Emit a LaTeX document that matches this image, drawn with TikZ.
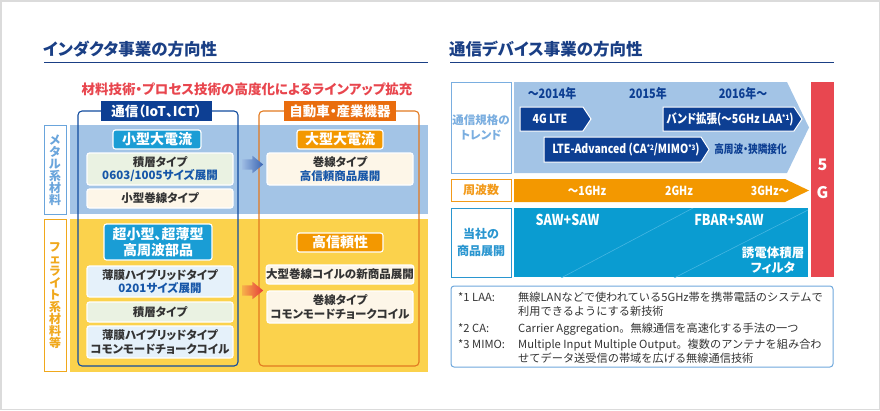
\documentclass[tikz,border=0pt]{standalone}
\usepackage{fontspec}
\setmainfont{Noto Sans CJK JP}[RawFeature={+palt}]
\newfontfamily\plainjp{Noto Sans CJK JP}
\newfontfamily\condjp{Noto Sans CJK JP}[RawFeature={+palt},FakeStretch=0.84]
\usetikzlibrary{shapes.arrows}
\newcommand\fs[2]{\fontsize{#1}{#2}\selectfont}
\newcommand\supx[1]{\raisebox{0.45ex}{\fontsize{7.5}{8}\selectfont #1}}
\definecolor{titleblue}{HTML}{1A3F85}
\definecolor{subred}{HTML}{E8464E}
\definecolor{bandblue}{HTML}{A3C4E6}
\definecolor{bandyellow}{HTML}{FBD24C}
\definecolor{frameblue}{HTML}{114B9E}
\definecolor{frameorange}{HTML}{E27A20}
\definecolor{darkblue}{HTML}{0D3F93}
\definecolor{hdrorange}{HTML}{E96D0E}
\definecolor{cyanA}{HTML}{1A9DD5}
\definecolor{orangeA}{HTML}{F39800}
\definecolor{greenbox}{HTML}{EAF2E2}
\definecolor{creambox}{HTML}{FDF6E8}
\definecolor{lbluebox}{HTML}{E5F1FA}
\definecolor{textblue}{HTML}{1656A8}
\definecolor{textdark}{HTML}{333333}
\definecolor{metalc}{HTML}{6AA5DC}
\definecolor{ferric}{HTML}{F0A81C}
\definecolor{trendc}{HTML}{7AAEE0}
\definecolor{freqc}{HTML}{F29A1A}
\definecolor{prodc}{HTML}{2A96D0}
\definecolor{cyanB}{HTML}{0A9CD1}
\definecolor{cyanline}{HTML}{45B6E2}
\definecolor{redg}{HTML}{E84750}
\definecolor{noteborder}{HTML}{6FA8DC}
\definecolor{arrowblueL}{HTML}{9DBBE3}
\definecolor{arrowblueR}{HTML}{3A64B2}
\definecolor{arrowredL}{HTML}{F6B04A}
\definecolor{arrowredR}{HTML}{E63B3B}
\newcommand\rbox[7]{\node[#6,minimum width={(#4)-(#2)},minimum height={(#5)-(#3)}] (#1) at ({((#2)+(#4))/2},{((#3)+(#5))/2}) {#7};}
\begin{document}
\begin{tikzpicture}[x=1pt,y=-1pt,
  title/.style={anchor=west,font=\bfseries\fs{16.5}{18},text=titleblue,inner sep=0},
  hdr/.style={inner sep=0,outer sep=0,text=white,font=\bfseries\fs{13.5}{16},align=center},
  tag/.style={draw=white,line width=1.2pt,rounded corners=2.5pt,inner sep=0,outer sep=0,text=white,font=\bfseries\fs{14}{16.5},align=center},
  item/.style={draw=white,line width=1.2pt,rounded corners=2.5pt,inner sep=0,outer sep=0,text=textdark,font=\bfseries\fs{11.5}{13.5},align=center},
  side/.style={draw,fill=white,line width=1pt,inner sep=0,outer sep=0,font=\bfseries\fs{11.5}{15},align=center},
  vert/.style={inner sep=0,font=\bfseries\fs{12}{12},align=center},
  arr/.style={single arrow,minimum height=21pt,inner sep=0pt,inner ysep=5pt,single arrow head extend=3.5pt,single arrow tip angle=78,shading angle=0},
  yr/.style={font=\condjp\bfseries\fs{13}{14},text=darkblue,inner sep=0},
  chev/.style={draw=white,line width=1pt,fill=darkblue},
  chevtxt/.style={font=\condjp\bfseries\fs{12.5}{14},text=white,inner sep=0},
  wtxt/.style={font=\condjp\bfseries\fs{12.5}{14},text=white,inner sep=0},
  big/.style={font=\condjp\bfseries\fs{15}{16},text=white,inner sep=0},
  note/.style={anchor=base west,font=\plainjp\fs{11.2}{14},text=textdark,inner sep=0}]
\useasboundingbox (0,0) rectangle (880,410);
\draw[black!14,line width=1.5pt] (0.75,0.75) rectangle (879.25,409.25);
% ===== left =====
\node[title] (t1) at (43,49) {インダクタ事業の方向性};
\draw[titleblue,line width=1.2pt] (44,62.5) -- (428,62.5);
\node[font=\bfseries\fs{13.5}{16},text=subred,inner sep=0] (sub) at (247,89) {材料技術・プロセス技術の高度化によるラインアップ拡充};
\fill[bandblue] (70,125) rectangle (428,214);
\fill[bandyellow] (70,219) rectangle (428,372);
\rbox{metal}{44}{125}{66}{214}{side,draw=metalc}{}
\node[vert,text=metalc] (metaltxt) at (55,170) {メ\\タ\\ル\\系\\材\\料};
\rbox{ferr}{44}{219}{66}{371}{side,draw=ferric}{}
\node[vert,text=ferric] (ferrtxt) at (55,296) {フ\\ェ\\ラ\\イ\\ト\\系\\材\\料\\等};
\draw[frameblue,line width=1.1pt,rounded corners=4pt] (78,111) rectangle (238,366);
\draw[frameorange,line width=1.1pt,rounded corners=4pt] (259,111) rectangle (419,366);
\rbox{comm}{101}{101}{212}{121}{hdr,fill=darkblue}{通信（IoT、ICT）}
\rbox{auto}{284}{101}{396}{121}{hdr,fill=hdrorange}{自動車・産業機器}
\rbox{tagA}{113}{130}{201}{149}{tag,fill=cyanA}{小型大電流}
\rbox{tagB}{297}{130}{383}{149}{tag,fill=orangeA}{大型大電流}
\rbox{tagC}{104}{224}{212}{260}{tag,fill=cyanA}{超小型、超薄型\\高周波部品}
\rbox{tagD}{297}{233}{383}{252}{tag,fill=orangeA}{高信頼性}
\rbox{i1}{87}{153}{233}{185}{item,fill=greenbox}{積層タイプ\\{\color{textblue}0603/1005サイズ展開}}
\rbox{i2}{87}{189}{233}{208}{item,fill=creambox}{小型巻線タイプ}
\rbox{i3}{267}{153}{413}{185}{item,fill=creambox}{巻線タイプ\\{\color{textblue}高信頼商品展開}}
\rbox{i4}{87}{266}{233}{297}{item,fill=lbluebox}{薄膜ハイブリッドタイプ\\{\color{textblue}0201サイズ展開}}
\rbox{i5}{87}{302}{233}{322}{item,fill=greenbox}{積層タイプ}
\rbox{i6}{87}{326}{233}{358}{item,fill=lbluebox}{薄膜ハイブリッドタイプ\\コモンモードチョークコイル}
\rbox{i7}{267}{265}{413}{284}{item,fill=creambox}{大型巻線コイルの新商品展開}
\rbox{i8}{267}{291}{413}{323}{item,fill=creambox}{巻線タイプ\\コモンモードチョークコイル}
\node[arr,left color=arrowblueL,right color=arrowblueR] (ab) at (249.5,164.5) {};
\node[arr,left color=arrowredL,right color=arrowredR] (ar) at (249.5,290.5) {};
% ===== right =====
\node[title] (t2) at (449,49) {通信デバイス事業の方向性};
\draw[titleblue,line width=1.2pt] (450,62.5) -- (834,62.5);
\rbox{lt}{451}{82}{511}{173}{side,draw=trendc,text=trendc}{通信規格の\\トレンド}
\rbox{lf}{451}{179}{511}{201}{side,draw=freqc,text=freqc,font=\bfseries\fs{12}{14}}{周波数}
\rbox{lp}{451}{208}{511}{277}{side,draw=prodc,text=prodc,font=\bfseries\fs{12}{17}}{当社の\\商品展開}
\fill[bandblue] (514,82) -- (787,82) -- (809,127.5) -- (787,173) -- (514,173) -- cycle;
\fill[orangeA] (514,179) -- (785,179) -- (809,190.5) -- (785,202) -- (514,202) -- cycle;
\fill[cyanB] (514,208) rectangle (808,277);
\begin{scope}
\clip (514,208) rectangle (808,277);
\draw[cyanline,line width=0.6pt] (561,278) -- (694,207.5);
\draw[cyanline,line width=0.6pt] (674,278) -- (809,209.5);
\end{scope}
\fill[redg] (811,82) rectangle (834,277);
\node[font=\bfseries\fs{16}{18},text=white,inner sep=0] (g5) at (822.5,165) {5};
\node[font=\bfseries\fs{16}{18},text=white,inner sep=0] (gG) at (822.5,193) {G};
\node[yr] (y1) at (552,94) {〜2014年};
\node[yr] (y2) at (648,94) {2015年};
\node[yr] (y3) at (743,94) {2016年〜};
\draw[chev] (520,107) -- (583,107) -- (591,119) -- (583,131) -- (520,131) -- cycle;
\node[chevtxt] (c1) at (550,119) {4G LTE};
\draw[chev] (663,107) -- (794,107) -- (802,119) -- (794,131) -- (663,131) -- cycle;
\node[chevtxt] (c2) at (730,119) {バンド拡張(〜5GHz LAA\supx{*1})};
\draw[chev] (544,137) -- (701,137) -- (709,149.5) -- (701,162) -- (544,162) -- cycle;
\node[chevtxt] (c3) at (626,149.5) {LTE-Advanced (CA\supx{*2}/MIMO\supx{*3})};
\node[font=\condjp\bfseries\fs{11.5}{14},text=darkblue,inner sep=0] (hf) at (750.5,149.5) {高周波・狭隣接化};
\node[wtxt] (f1) at (587,191) {〜1GHz};
\node[wtxt] (f2) at (679,191) {2GHz};
\node[wtxt] (f3) at (770,191) {3GHz〜};
\node[big] (p1) at (567.5,220) {SAW+SAW};
\node[big] (p2) at (729,220) {FBAR+SAW};
\node[font=\bfseries\fs{12.5}{15},text=white,inner sep=0,align=center] (p3) at (773,260.5) {誘電体積層\\フィルタ};
\draw[noteborder,line width=1pt,rounded corners=3pt] (451,286) rectangle (833,367);
\node[note] (n1) at (458,301) {*1 LAA:};
\node[note] (n1a) at (518,301) {無線LANなどで使われている5GHz帯を携帯電話のシステムで};
\node[note] (n1b) at (518,315) {利用できるようにする新技術};
\node[note] (n2) at (458,332) {*2 CA:};
\node[note] (n2a) at (518,332) {Carrier Aggregation。無線通信を高速化する手法の一つ};
\node[note] (n3) at (458,348) {*3 MIMO:};
\node[note] (n3a) at (518,348) {Multiple Input Multiple Output。複数のアンテナを組み合わ};
\node[note] (n3b) at (518,362) {せてデータ送受信の帯域を広げる無線通信技術};
\end{tikzpicture}
\end{document}
